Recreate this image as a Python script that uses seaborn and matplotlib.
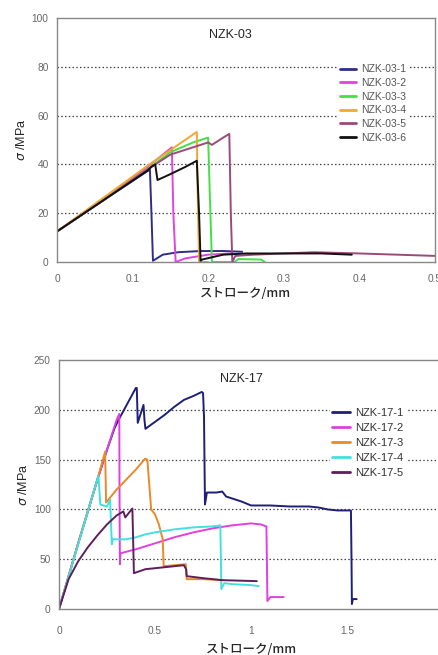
import pandas as pd
import numpy as np
import matplotlib
matplotlib.use('Agg')
import matplotlib.pyplot as plt
import seaborn as sns

sns.set_style('white')
plt.rcParams['font.family'] = ['Liberation Sans', 'Noto Sans CJK JP', 'DejaVu Sans']
plt.rcParams['mathtext.fontset'] = 'dejavusans'

# ---- NZK-03 data (stroke mm, stress MPa) ----
n03_labels = ['NZK-03-1', 'NZK-03-2', 'NZK-03-3', 'NZK-03-4', 'NZK-03-5', 'NZK-03-6']
n03_colors = ['#2e2e8a', '#e044e0', '#44e044', '#f0a830', '#9a4a78', '#111111']

n03_1_x = [0, 0.06, 0.12, 0.123, 0.125, 0.127, 0.14, 0.16, 0.19, 0.22, 0.245]
n03_1_y = [12.5, 25, 37.3, 37.8, 20, 0.5, 3, 4, 4.5, 4.5, 4.2]
n03_2_x = [0, 0.06, 0.12, 0.152, 0.154, 0.157, 0.17, 0.2, 0.23, 0.235]
n03_2_y = [12.5, 25.5, 39, 47, 20, 0, 1.5, 3, 3.5, 3.4]
n03_3_x = [0, 0.06, 0.12, 0.15, 0.18, 0.2, 0.202, 0.205, 0.235, 0.24, 0.27, 0.275]
n03_3_y = [12.5, 25, 38, 45, 49, 51, 30, 0, 0, 1.2, 1.0, 0]
n03_4_x = [0, 0.06, 0.12, 0.185, 0.186, 0.188, 0.2]
n03_4_y = [12.5, 26, 39.5, 53.3, 30, 0, 0]
n03_5_x = [0, 0.06, 0.12, 0.15, 0.18, 0.2, 0.205, 0.22, 0.228, 0.23, 0.232, 0.236,
           0.26, 0.3, 0.34, 0.4, 0.45, 0.5]
n03_5_y = [12.5, 25, 38, 44, 47, 49, 48, 51, 52.5, 20, 0, 2.5,
           3, 3.5, 4, 3.5, 3, 2.5]
n03_6_x = [0, 0.06, 0.12, 0.125, 0.13, 0.133, 0.15, 0.17, 0.185, 0.188, 0.19, 0.192,
           0.22, 0.25, 0.3, 0.35, 0.39]
n03_6_y = [12.5, 25, 37.5, 39, 40, 33.6, 36, 39, 41.5, 20, 0.5, 1,
           3, 3.5, 3.5, 3.5, 3]

# ---- NZK-17 data ----
n17_labels = ['NZK-17-1', 'NZK-17-2', 'NZK-17-3', 'NZK-17-4', 'NZK-17-5']
n17_colors = ['#1f1f78', '#e040e0', '#e8892a', '#44e0e0', '#5c1f5c']

n17_1_x = [0, 0.1, 0.2, 0.25, 0.29, 0.3, 0.31, 0.33, 0.4, 0.405, 0.41, 0.44, 0.445,
           0.45, 0.5, 0.55, 0.6, 0.65, 0.7, 0.743, 0.75, 0.755, 0.76, 0.77, 0.82,
           0.85, 0.87, 0.95, 1.0, 1.1, 1.2, 1.3, 1.35, 1.4, 1.45, 1.52, 1.523, 1.525,
           1.53, 1.55]
n17_1_y = [0, 66, 130, 160, 182, 186, 190, 197, 222, 222, 187, 205, 190,
           181, 188, 195, 203, 210, 214, 218, 217, 193, 105, 117, 117,
           118, 113, 108, 104, 104, 103, 103, 102, 100, 99, 99, 50, 5,
           10, 10]
n17_2_x = [0, 0.1, 0.2, 0.25, 0.3, 0.314, 0.315, 0.317, 0.32, 0.4, 0.5, 0.6, 0.7,
           0.8, 0.9, 1.0, 1.05, 1.08, 1.083, 1.085, 1.1, 1.17]
n17_2_y = [0, 66, 130, 160, 190, 196, 120, 45, 56, 60, 66, 72, 77,
           81, 84, 86, 85, 83, 40, 8, 12, 12]
n17_3_x = [0, 0.1, 0.2, 0.24, 0.243, 0.245, 0.3, 0.35, 0.4, 0.448, 0.46, 0.47, 0.48,
           0.5, 0.52, 0.54, 0.545, 0.6, 0.66, 0.665, 0.75, 0.85]
n17_3_y = [0, 66, 130, 158, 130, 107, 120, 130, 140, 151, 150, 125, 100,
           95, 85, 70, 43, 44, 45, 30, 30, 29]
n17_4_x = [0, 0.1, 0.205, 0.21, 0.215, 0.25, 0.266, 0.27, 0.275, 0.28, 0.35, 0.4,
           0.45, 0.5, 0.6, 0.7, 0.8, 0.84, 0.843, 0.845, 0.86, 0.9, 1.0, 1.04]
n17_4_y = [0, 65, 134, 120, 105, 103, 110, 90, 65, 70, 70, 72,
           75, 77, 80, 82, 83, 84, 50, 20, 26, 25, 24, 23]
n17_5_x = [0, 0.05, 0.1, 0.15, 0.2, 0.25, 0.3, 0.335, 0.345, 0.382, 0.386, 0.39,
           0.45, 0.55, 0.65, 0.662, 0.665, 0.75, 0.85, 1.03]
n17_5_y = [0, 30, 48, 62, 74, 85, 94, 98, 92, 101, 70, 36,
           40, 42, 44, 40, 33, 31, 29, 28]


def make_df(labels, xs, ys):
    frames = []
    for lab, x, y in zip(labels, xs, ys):
        frames.append(pd.DataFrame({'x': x, 'y': y, 'series': lab}))
    return pd.concat(frames, ignore_index=True)


df03 = make_df(n03_labels,
               [n03_1_x, n03_2_x, n03_3_x, n03_4_x, n03_5_x, n03_6_x],
               [n03_1_y, n03_2_y, n03_3_y, n03_4_y, n03_5_y, n03_6_y])
df17 = make_df(n17_labels,
               [n17_1_x, n17_2_x, n17_3_x, n17_4_x, n17_5_x],
               [n17_1_y, n17_2_y, n17_3_y, n17_4_y, n17_5_y])

fig = plt.figure(figsize=(4.38, 6.55), dpi=100)
ax1 = fig.add_axes([0.130, 0.600, 0.863, 0.3725])
ax2 = fig.add_axes([0.1347, 0.0702, 0.877, 0.380])

xlabel_font = ['Noto Sans CJK JP', 'DejaVu Sans']


def style_axes(ax, yticks, xticks, xticklabels, xpad, labelpad):
    ax.set_yticks(yticks)
    ax.set_xticks(xticks)
    ax.set_xticklabels(xticklabels)
    for y in yticks[1:-1]:
        ax.axhline(y, color='#444444', lw=0.9, ls=(0, (1.2, 1.8)), zorder=0)
    for s in ax.spines.values():
        s.set_color('#888888')
        s.set_linewidth(1.0)
    ax.tick_params(axis='both', labelsize=7.3, labelcolor='#666666',
                   direction='in', length=3, color='#888888', pad=6)
    ax.tick_params(axis='x', pad=xpad)
    ax.set_xlabel('ストローク/mm', family=xlabel_font, fontsize=9,
                  fontweight='medium', labelpad=labelpad)
    ax.set_ylabel(r'$\sigma$ /MPa', fontsize=9, labelpad=3)


# top panel
sns.lineplot(data=df03, x='x', y='y', hue='series', palette=n03_colors,
             sort=False, estimator=None, lw=1.4, ax=ax1, legend=False)
ax1.set_xlim(0, 0.5)
ax1.set_ylim(0, 100)
style_axes(ax1, [0, 20, 40, 60, 80, 100], [0, 0.1, 0.2, 0.3, 0.4, 0.5],
           ['0', '0.1', '0.2', '0.3', '0.4', '0.5'], 9, 2)
ax1.text(0.46, 0.93, 'NZK-03', transform=ax1.transAxes, ha='center', va='center', fontsize=9)
handles1 = [plt.Line2D([0], [0], color=c, lw=2) for c in n03_colors]
leg1 = ax1.legend(handles1, n03_labels, loc='upper left', bbox_to_anchor=(0.73, 0.84),
                  fontsize=7.5, frameon=True, facecolor='white', edgecolor='none',
                  framealpha=1, handlelength=1.5, labelspacing=0.35, borderpad=0.2,
                  handletextpad=0.5)
for t in leg1.get_texts():
    t.set_color('#555555')

# bottom panel
sns.lineplot(data=df17, x='x', y='y', hue='series', palette=n17_colors,
             sort=False, estimator=None, lw=1.4, ax=ax2, legend=False)
ax2.set_xlim(0, 2)
ax2.set_ylim(0, 250)
style_axes(ax2, [0, 50, 100, 150, 200, 250], [0, 0.5, 1, 1.5],
           ['0', '0.5', '1', '1.5'], 12, 5)
ax2.text(0.475, 0.925, 'NZK-17', transform=ax2.transAxes, ha='center', va='center', fontsize=9)
handles2 = [plt.Line2D([0], [0], color=c, lw=2) for c in n17_colors]
leg2 = ax2.legend(handles2, n17_labels, loc='upper left', bbox_to_anchor=(0.69, 0.84),
                  fontsize=8, frameon=True, facecolor='white', edgecolor='none',
                  framealpha=1, handlelength=1.6, labelspacing=0.45, borderpad=0.2,
                  handletextpad=0.5)
for t in leg2.get_texts():
    t.set_color('#333333')

fig.savefig('out.png', dpi=100)
